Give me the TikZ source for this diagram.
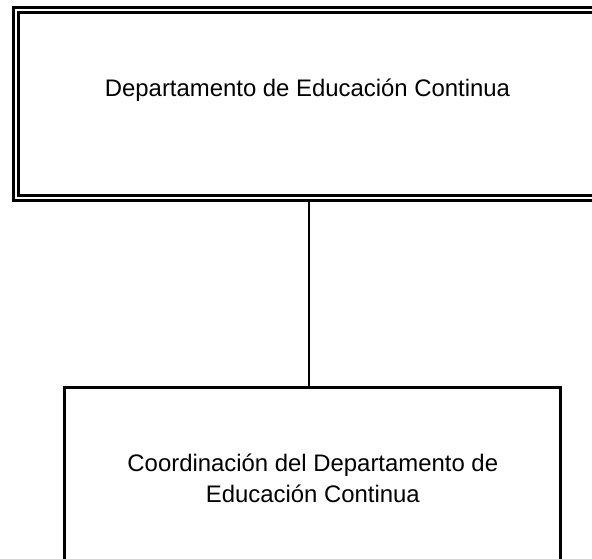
\documentclass[tikz,border=0pt]{standalone}
\usepackage{fontspec}
\setmainfont{Liberation Sans}
\begin{document}
\begin{tikzpicture}[x=1pt,y=-1pt,
  boxtxt/.style={font=\fontsize{23.9}{31.7}\selectfont, inner sep=0pt},
  dblbox/.style={draw, double, line width=2.5pt, double distance=2.5pt, rectangle, inner sep=0pt},
  plainbox/.style={draw, line width=2.8pt, rectangle, inner sep=0pt}]
\useasboundingbox (0,0) rectangle (592,559);
% top box (double border, runs past the right edge)
\node[dblbox, minimum width=583pt, minimum height=188.2pt] (topbox) at (307.5,103.95) {};
\node[boxtxt, anchor=base] (toptext) at (307.5,97) {Departamento de Educación Continua};
% bottom box (runs past the bottom edge)
\node[plainbox, minimum width=495.8pt, minimum height=300pt] (botbox) at (312.4,537.3) {};
\node[boxtxt, anchor=base, align=center] (bottext) at (312.8,502.7) {Coordinación del Departamento de\\Educación Continua};
% connector
\coordinate (cx) at (309,0);
\draw[line width=1.8pt] (topbox.south -| cx) -- (botbox.north -| cx);
\end{tikzpicture}
\end{document}
